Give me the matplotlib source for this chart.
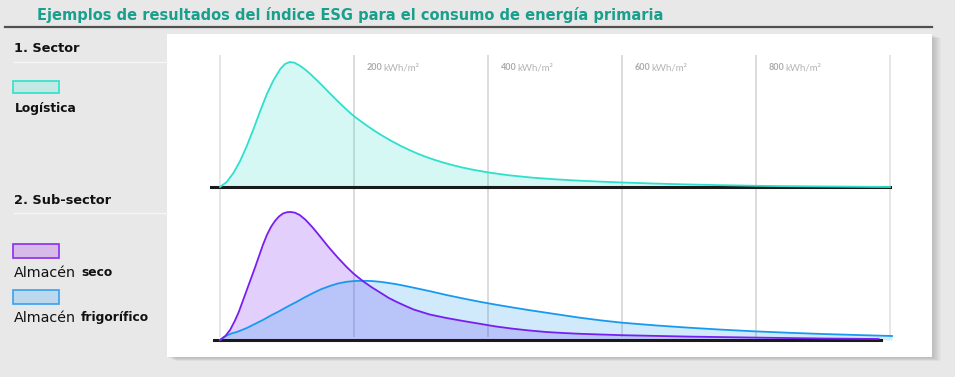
import matplotlib.pyplot as plt
from matplotlib.patches import Rectangle
from matplotlib.lines import Line2D

# consumo de energía primaria [kWh/m2] vs. frecuencia relativa (escala del gráfico)
x_log = [0, 10, 20, 30, 40, 50, 60, 70, 80, 90, 97, 104, 111, 120, 128, 134, 145, 155, 165, 175,
         185, 192, 200, 210, 220, 232, 243, 256, 270, 282, 294, 307, 320, 334, 347, 361, 375,
         400, 430, 467, 500, 537, 570, 600, 650, 700, 750, 800, 850, 900, 1000]
y_log = [0, 5, 14, 26, 41, 58, 76, 93, 107, 118, 123, 125, 124.3, 121, 117, 113.5, 106.5, 99.8, 93, 86.3,
         79.8, 75.5, 70.8, 65.8, 61, 55.6, 51, 46, 41, 37.2, 33.6, 30.2, 27.2, 24.3, 21.9, 19.6, 17.6,
         14.6, 11.8, 9.3, 7.7, 6.3, 5.3, 4.5, 3.4, 2.5, 1.8, 1.2, 0.8, 0.5, 0]

x_seco = [0, 8, 15, 22, 28, 34, 40, 46, 52, 58, 64, 70, 76, 82, 88, 94, 100, 106, 112, 119,
          128, 139, 150, 162, 175, 189, 200, 214, 227, 239, 252, 264, 277, 289, 313, 338, 363,
          388, 412, 437, 462, 487, 512, 537, 600, 700, 800, 900, 983]
y_seco = [0, 4, 10, 19, 28, 39, 50, 61, 72, 83.5, 95, 105, 113, 119, 123.5, 126.5, 127.8, 128, 127.3, 125,
          120, 112, 103, 93, 83, 73, 66, 58.5, 52.5, 47.5, 42, 38, 34, 30.5, 25.5, 22, 19,
          16.2, 13.5, 11.3, 9.5, 8, 7, 6.2, 4.8, 3.4, 2.4, 1.5, 1]

x_frig = [0, 5, 10, 17, 25, 32, 40, 52, 64, 76, 89, 101, 114, 126, 139, 151, 164, 176, 189, 201,
          214, 226, 239, 252, 264, 277, 289, 314, 338, 363, 388, 412, 437, 462, 487, 512, 537,
          570, 600, 650, 700, 750, 800, 850, 900, 950, 1003]
y_frig = [0, 2.5, 4.5, 6.5, 8, 9.8, 12, 16, 20, 24.5, 29, 33.5, 38, 42.5, 47, 50.8, 54, 56.5, 58.2, 59,
          59.2, 59, 58.2, 57, 55.7, 54, 52.3, 48.7, 45, 41.5, 38.2, 35.3, 32.5, 29.8, 27.3, 24.8, 22.3,
          19.5, 17.3, 14.6, 12.3, 10.3, 8.6, 7.2, 6, 5, 4]

ticks = [0, 200, 400, 600, 800, 1000]
tick_labels = ['200', '400', '600', '800']

c_log = '#2ee0cc'
c_seco = '#781ef0'
c_frig = '#1899f0'
txt = '#111111'

W, H = 955, 377
fig = plt.figure(figsize=(W / 100, H / 100), dpi=100)
fig.patch.set_facecolor('#e8e8e8')


def fx(px):
    return px / W


def fy(py):
    return 1 - py / H


# titulo y linea
fig.text(fx(37), fy(15), 'Ejemplos de resultados del índice ESG para el consumo de energía primaria',
         color='#1a9f8c', fontsize=10.5, fontweight='bold', va='center', ha='left')
fig.add_artist(Line2D([fx(5), fx(932)], [fy(27), fy(27)], color='#505050', lw=1.6))

# panel blanco con sombra
for i in range(9):
    fig.add_artist(Rectangle((fx(167 + i + 1), fy(357 + i * 0.4 + 1)), fx(765), (357 - 34) / H,
                             facecolor='black', alpha=0.018, lw=0, zorder=-10))
fig.add_artist(Rectangle((fx(167), fy(357)), fx(765), (357 - 34) / H, facecolor='white', lw=0, zorder=-5))

# textos de la izquierda
fig.text(fx(14), fy(48), '1. Sector', fontsize=9.3, fontweight='bold', color=txt, va='center')
fig.add_artist(Line2D([fx(14), fx(167)], [fy(62), fy(62)], color='#f6f6f6', lw=1))
fig.text(fx(14), fy(200), '2. Sub-sector', fontsize=9.3, fontweight='bold', color=txt, va='center')
fig.add_artist(Line2D([fx(14), fx(167)], [fy(213), fy(213)], color='#f6f6f6', lw=1))

fig.add_artist(Rectangle((fx(13), fy(93)), fx(46), 12 / H, facecolor='#c3e9e4', edgecolor=c_log, lw=1.2))
fig.text(fx(15), fy(108), 'Logística', fontsize=8.8, fontweight='bold', color=txt, va='center')

fig.add_artist(Rectangle((fx(13), fy(258)), fx(46), 14 / H, facecolor='#d6bbe9', edgecolor='#8c2cf0', lw=1.2))
fig.text(fx(14), fy(273), 'Almacén', fontsize=10.3, color=txt, va='center')
fig.text(fx(81), fy(273), 'seco', fontsize=8.8, fontweight='bold', color=txt, va='center')

fig.add_artist(Rectangle((fx(13), fy(304)), fx(46), 14 / H, facecolor='#bcd8ee', edgecolor='#3aa0f0', lw=1.2))
fig.text(fx(14), fy(318), 'Almacén', fontsize=10.3, color=txt, va='center')
fig.text(fx(81), fy(318), 'frigorífico', fontsize=8.8, fontweight='bold', color=txt, va='center')

# ejes
px_per_unit = 0.67
xlim = (-20 / px_per_unit, 690 / px_per_unit)
ax1 = fig.add_axes([fx(200), fy(195), fx(710), 145 / H])
ax2 = fig.add_axes([fx(200), fy(348), fx(710), 153 / H])
ax1.set_ylim(-8, 137)
ax2.set_ylim(-8, 145)

for ax in (ax1, ax2):
    ax.set_xlim(*xlim)
    ax.patch.set_alpha(0)
    for s in ['top', 'right', 'left']:
        ax.spines[s].set_visible(False)
    ax.spines['bottom'].set_position(('data', 0))
    ax.spines['bottom'].set_linewidth(2.2)
    ax.spines['bottom'].set_color('#1a1a1a')
    ax.spines['bottom'].set_zorder(2)
    ax.set_xticks([])
    ax.set_yticks([])

ax1.spines['bottom'].set_bounds(-13, 1000)
ax2.spines['bottom'].set_bounds(-9, 987)

for tk in ticks:
    gc = '#e2e2e2' if tk in (0, 1000) else '#d6d6d6'
    ax1.vlines(tk, -8, 132, color=gc, lw=1.2, zorder=0)
    ax2.vlines(tk, 3, 145, color=gc, lw=1.2, zorder=0)

for tk, lab in zip(ticks[1:-1], tick_labels):
    ax1.annotate(lab, (tk, 119), xytext=(9.4, 0), textcoords='offset points', fontsize=6.5,
                 fontweight='bold', color='#aaaaaa', family='Lato', va='center')
    ax1.annotate('kWh/m²', (tk, 119), xytext=(21.5, 0), textcoords='offset points', fontsize=7,
                 color='#b4b4b4', family='Lato', va='center')

# curvas
ax1.fill_between(x_log, y_log, 0, color=c_log, alpha=0.2, lw=0, zorder=1)
ax1.plot(x_log, y_log, color=c_log, lw=1.3, zorder=3)

ax2.fill_between(x_seco, y_seco, 0, color=c_seco, alpha=0.21, lw=0, zorder=1)
ax2.fill_between(x_frig, y_frig, 0, color=c_frig, alpha=0.2, lw=0, zorder=1)
ax2.plot(x_frig, y_frig, color=c_frig, lw=1.3, zorder=3)
ax2.plot(x_seco, y_seco, color=c_seco, lw=1.3, zorder=3)

plt.savefig('out.png', dpi=100, facecolor=fig.get_facecolor())
